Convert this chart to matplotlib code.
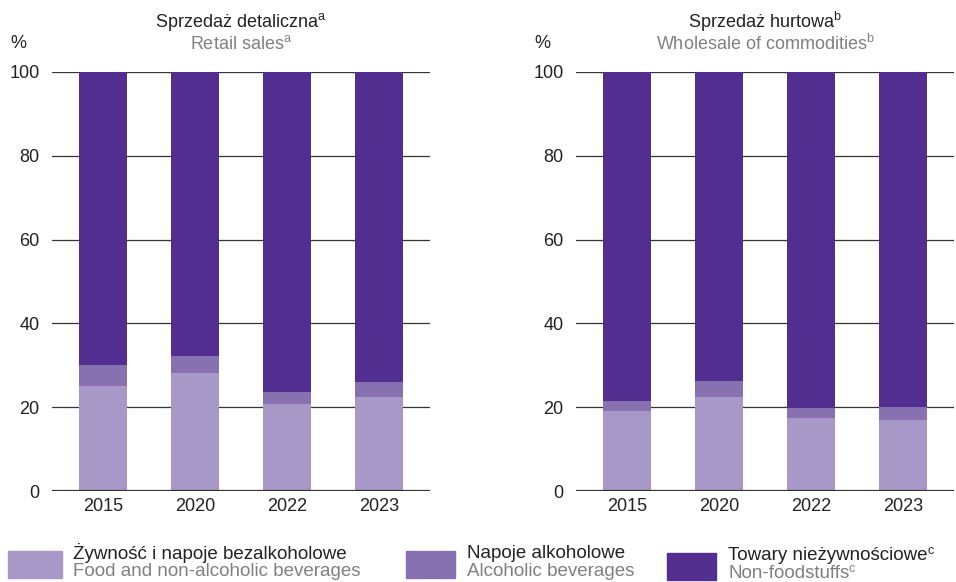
import numpy as np
import matplotlib.pyplot as plt
from matplotlib.patches import Rectangle

plt.rcParams['font.family'] = ['Liberation Sans', 'DejaVu Sans']
plt.rcParams['mathtext.fontset'] = 'custom'
plt.rcParams['mathtext.rm'] = 'Liberation Sans'
plt.rcParams['mathtext.default'] = 'regular'

years = ['2015', '2020', '2022', '2023']
retail_food = [25.1, 28.2, 20.8, 22.4]
retail_alcohol = [5.0, 4.0, 2.8, 3.6]
wholesale_food = [19.1, 22.4, 17.4, 16.9]
wholesale_alcohol = [2.4, 3.9, 2.4, 3.1]

series_pl = ['Żywność i napoje bezalkoholowe', 'Napoje alkoholowe', 'Towary nieżywnościowe']
series_en = ['Food and non-alcoholic beverages', 'Alcoholic beverages', 'Non-foodstuffs']
series_note = ['', '', 'c']
colors = ['#a898c8', '#8771b0', '#512e90']

titles_pl = ['Sprzedaż detaliczna$^{a}$', 'Sprzedaż hurtowa$^{b}$']
titles_en = ['Retail sales$^{a}$', 'Wholesale of commodities$^{b}$']

fig = plt.figure(figsize=(9.56, 5.82), dpi=100)
W, H = 956, 582


def panel(left, food, alcohol, tpl, ten):
    ax = fig.add_axes([left / W, (H - 491) / H, 378 / W, 419 / H])
    x = np.arange(len(years))
    food = np.array(food)
    alcohol = np.array(alcohol)
    other = 100 - food - alcohol
    ax.bar(x, food, width=0.52, color=colors[0], zorder=3)
    ax.bar(x, alcohol, width=0.52, bottom=food, color=colors[1], zorder=3)
    ax.bar(x, other, width=0.52, bottom=food + alcohol, color=colors[2], zorder=3)
    ax.set_xlim(-0.555, 3.555)
    ax.set_ylim(0, 100)
    ax.set_yticks(range(0, 101, 20))
    ax.set_xticks(x)
    ax.set_xticklabels(years)
    ax.tick_params(length=0, labelsize=13, colors='#222222', pad=9)
    ax.tick_params(axis='x', pad=5)
    for s in ax.spines.values():
        s.set_visible(False)
    for v in range(20, 101, 20):
        ax.axhline(v, color='#333333', lw=0.9, zorder=1)
    ax.axhline(0, color='#333333', lw=1.6, zorder=4)
    ax.text(-0.111, 1.068, '%', transform=ax.transAxes, fontsize=13, color='#222222',
            ha='left', va='center')
    ax.text(0.5, 1.12, tpl, transform=ax.transAxes, fontsize=13, color='#222222',
            ha='center', va='center')
    ax.text(0.5, 1.068, ten, transform=ax.transAxes, fontsize=13, color='#808080',
            ha='center', va='center')
    return ax


panel(52, retail_food, retail_alcohol, titles_pl[0], titles_en[0])
panel(576, wholesale_food, wholesale_alcohol, titles_pl[1], titles_en[1])

# legend drawn by hand, two lines per item
renderer = fig.canvas.get_renderer()
swatch_x = [8, 406, 667]
swatch_w = [54, 49, 49]
swatch_top = [551, 551, 553]
text_x = [73, 467, 728]
for i in range(3):
    top = swatch_top[i]
    fig.add_artist(Rectangle((swatch_x[i] / W, (H - top - 27) / H), swatch_w[i] / W, 27 / H,
                             transform=fig.transFigure, color=colors[i]))
    for txt, dy, col in [(series_pl[i], 2, '#222222'), (series_en[i], 20, '#808080')]:
        t = fig.text(text_x[i] / W, (H - (top + dy)) / H, txt, fontsize=13.5,
                     color=col, ha='left', va='center')
        if series_note[i]:
            bb = t.get_window_extent(renderer)
            fig.text((bb.x1 - 0.5) / W, (H - (top + dy) + 4.5) / H, series_note[i],
                     fontsize=9, color=col, ha='left', va='center')

fig.savefig('out.png', dpi=100)
